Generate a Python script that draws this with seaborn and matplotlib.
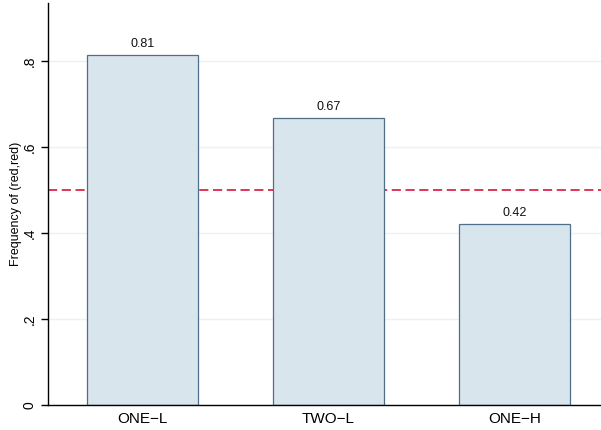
import matplotlib
matplotlib.use("Agg")
import matplotlib.pyplot as plt
import seaborn as sns
import pandas as pd

categories = ["ONE\u2212L", "TWO\u2212L", "ONE\u2212H"]
values = [0.813, 0.667, 0.420]
value_labels = ["0.81", "0.67", "0.42"]
yticks = [0, 0.2, 0.4, 0.6, 0.8]
ytick_labels = ["0", ".2", ".4", ".6", ".8"]
ref_value = 0.5

sns.set_theme(style="white")
plt.rcParams['font.family'] = ['Liberation Sans', 'DejaVu Sans']
plt.rcParams['text.color'] = 'black'
plt.rcParams['axes.labelcolor'] = 'black'
plt.rcParams['xtick.color'] = 'black'
plt.rcParams['ytick.color'] = 'black'

df = pd.DataFrame({"cat": categories, "val": values})

fig = plt.figure(figsize=(6.01, 4.30), dpi=100)
ax = fig.add_axes([48/601, 25/430, 1 - 48/601, (405-3)/430])

for t in yticks:
    ax.axhline(t, color="#eaf2f3", lw=1.0, zorder=0)
ax.axhline(ref_value, color="#d6002a", lw=1.1, ls=(0, (6.0, 3.0)), zorder=1)

sns.barplot(data=df, x="cat", y="val", ax=ax, width=0.6,
            color="#d9e5ec", edgecolor="#4f6f88", linewidth=0.9,
            saturation=1, errorbar=None, zorder=2)
for p in ax.patches:
    p.set_facecolor("#d9e5ec")

for i, (v, lab) in enumerate(zip(values, value_labels)):
    ax.text(i, v + 0.012, lab, ha="center", va="bottom", fontsize=9, color="#111111")

ax.set_xlim(-0.508, 2.465)
ax.set_ylim(0, 0.935)
ax.set_yticks(yticks)
ax.set_yticklabels(ytick_labels, rotation=90, va="center", fontsize=10)
ax.set_xticks(range(len(categories)))
ax.set_xticklabels(categories, fontsize=11)
ax.set_xlabel("")
ax.set_ylabel("Frequency of (red,red)", fontsize=9)
ax.yaxis.set_label_coords(-0.047, 0.5)
ax.tick_params(axis="y", length=5, width=1, color="black", pad=3, left=True)
ax.tick_params(axis="x", length=0, pad=5)
for s in ["top", "right"]:
    ax.spines[s].set_visible(False)
for s in ["left", "bottom"]:
    ax.spines[s].set_color("black")
    ax.spines[s].set_linewidth(1.0)

fig.savefig("out.png", dpi=100)
